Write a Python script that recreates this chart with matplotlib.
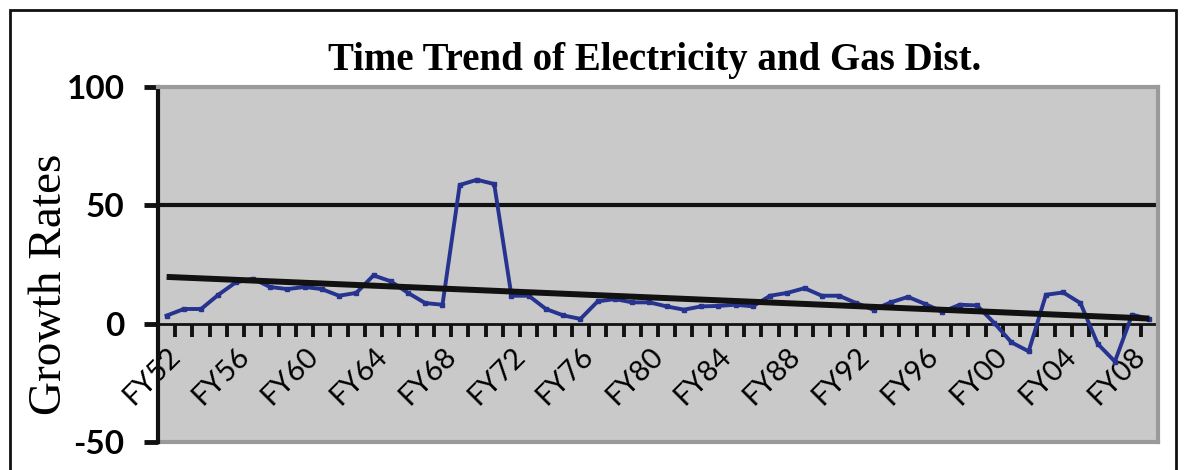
import numpy as np
import matplotlib
matplotlib.use("Agg")
import matplotlib.pyplot as plt
from matplotlib.patches import Rectangle

# growth rates, FY52 .. FY09
years = ['FY%02d' % (y % 100) for y in range(1952, 2010)]
growth = [3.4, 6.2, 6.2, 12.2, 17.4, 19.0, 15.5, 14.6, 15.5, 14.6,
          11.8, 13.0, 20.4, 17.9, 13.0, 8.7, 8.0, 58.6, 60.8, 59.0,
          11.8, 11.8, 6.2, 3.5, 2.0, 9.4, 10.4, 9.0, 9.0, 7.3,
          5.9, 7.3, 7.5, 8.0, 7.3, 11.8, 13.0, 15.0, 11.8, 11.8,
          8.7, 5.9, 9.0, 11.3, 8.3, 5.0, 8.0, 7.7, 0.3, -7.9,
          -11.7, 12.2, 13.2, 8.7, -8.5, -16.0, 3.8, 2.0]
yticks = [-50, 0, 50, 100]

x = np.arange(len(years))
slope, icpt = np.polyfit(x, growth, 1)
trend = slope * x + icpt

fig = plt.figure(figsize=(11.86, 4.70), dpi=100)
ax = fig.add_axes([158/1186, 28/470, 1000/1186, 355/470])
ax.set_facecolor('#c9c9c9')

ax.axhline(50, color='#111111', lw=3, zorder=1)
ax.plot(x, growth, color='#26338f', lw=2.8, marker='s', ms=3, zorder=3)
ax.plot(x, trend, color='#111111', lw=4.3, zorder=4, solid_capstyle='butt')

ax.set_xlim(-0.5, len(years) - 0.5)
ax.set_ylim(-50, 100)

# spines
for s in ['top', 'right']:
    ax.spines[s].set_color('#9a9a9a')
    ax.spines[s].set_linewidth(3)
ax.spines['left'].set_color('#111111')
ax.spines['left'].set_linewidth(3)
ax.spines['bottom'].set_position(('data', 0))
ax.spines['bottom'].set_color('#111111')
ax.spines['bottom'].set_linewidth(2)
ax.spines['bottom'].set_zorder(2)
ax.plot([-0.5, len(years) - 0.5], [-50, -50], color='#9a9a9a', lw=3,
        clip_on=False, zorder=1)

# y axis
ax.set_yticks(yticks)
ax.set_yticklabels([str(v) for v in yticks], fontfamily='Lato',
                   fontweight='bold', fontsize=24)
ax.tick_params(axis='y', direction='out', length=10, width=3.5,
               color='#111111', pad=14)

# x axis: tick marks at category borders, labels every 4 years
ax.set_xticks(np.arange(-0.5, len(years), 1.0), minor=True)
ax.set_xticks(x[::4])
ax.set_xticklabels(years[::4], rotation=45, ha='right', va='top',
                   rotation_mode='anchor', fontfamily='Lato', fontsize=21,
                   color='#000000')
ax.tick_params(axis='x', which='major', length=0, pad=14)
ax.tick_params(axis='x', which='minor', direction='out', length=9,
               width=2.8, color='#111111')

fig.text(50/1186, 0.396, 'Growth Rates', rotation=90,
         fontfamily='Liberation Serif', fontsize=34, ha='center', va='center')
fig.text(0.552, 0.872, 'Time Trend of Electricity and Gas Dist.',
         fontfamily='Liberation Serif', fontweight='bold', fontsize=28,
         ha='center', va='center')

fig.patches.append(Rectangle((10/1186, -0.1), 1166/1186, 1.1 - 10/470,
                             transform=fig.transFigure, fill=False,
                             edgecolor='#111111', lw=2))

fig.savefig('out.png', dpi=100)
